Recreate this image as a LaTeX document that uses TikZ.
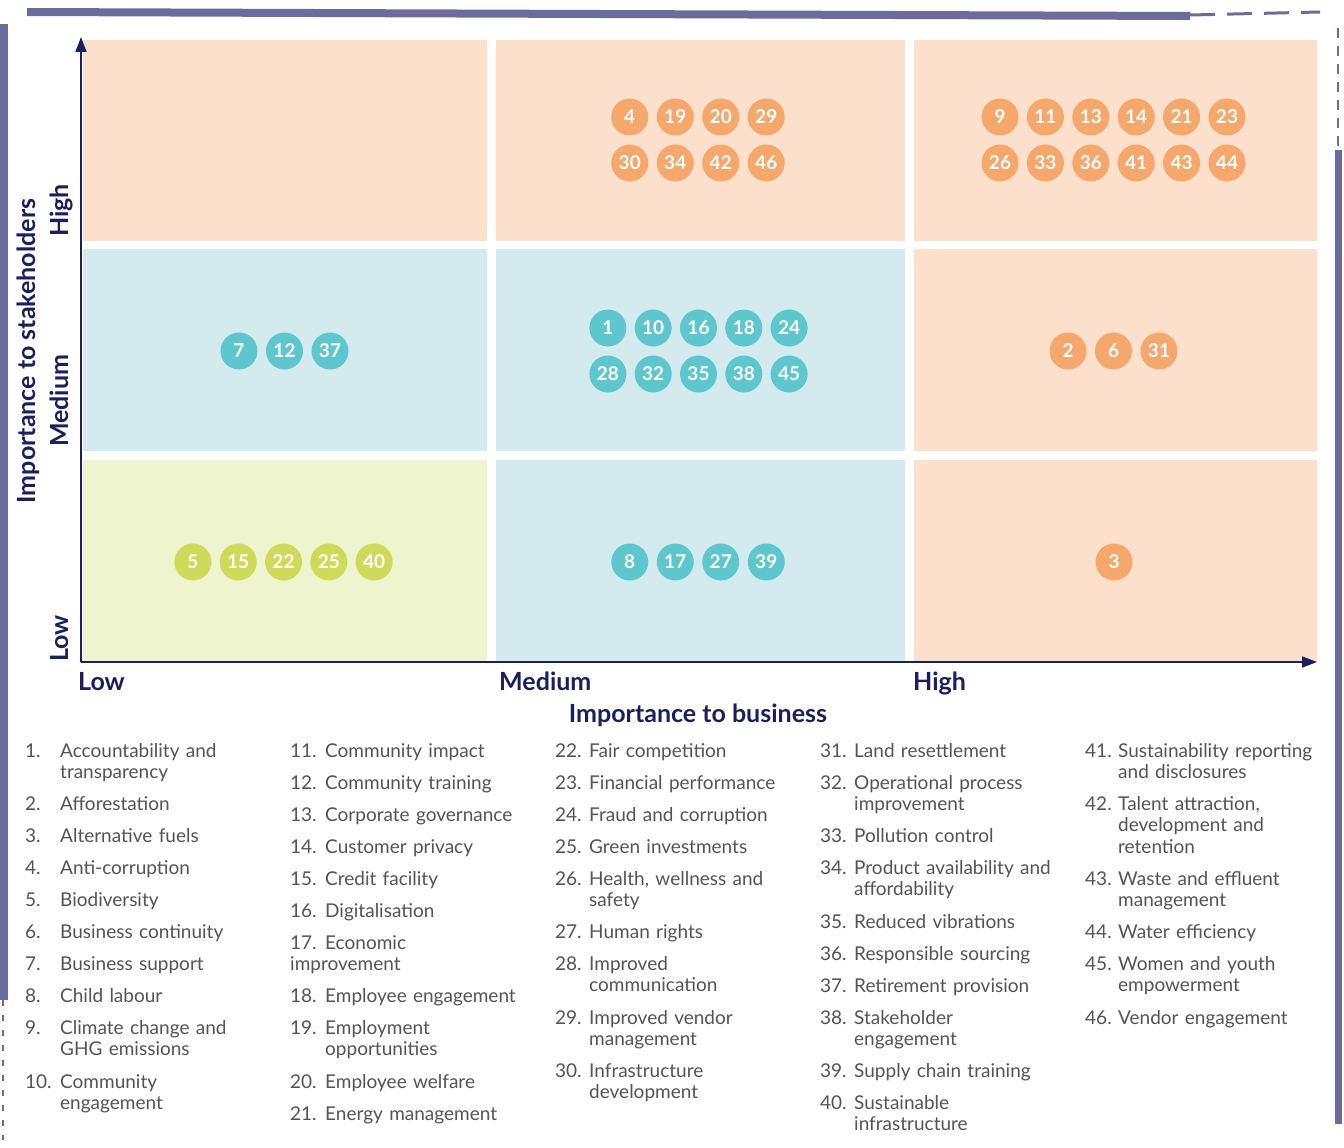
\documentclass[tikz,border=0pt]{standalone}
\usepackage{fontspec}
\setmainfont{Lato}
\usetikzlibrary{arrows.meta}

\definecolor{navy}{HTML}{1A1F60}
\definecolor{frame}{HTML}{6B6C9E}
\definecolor{peach}{HTML}{FCE0CB}
\definecolor{aqua}{HTML}{D3EBEE}
\definecolor{lime}{HTML}{EEF4CD}
\definecolor{orangedot}{HTML}{F6A76C}
\definecolor{tealdot}{HTML}{5EC6CD}
\definecolor{limedot}{HTML}{CEDB5A}
\definecolor{listgray}{HTML}{545454}

\begin{document}
\begin{tikzpicture}[x=1pt, y=-1pt,
    cell/.style={rectangle, inner sep=0, draw=none},
    dot/.style={circle, minimum size=37pt, inner sep=0, text=white, font=\fontsize{19}{19}\selectfont\bfseries},
    hi/.style={dot, fill=orangedot},
    mid/.style={dot, fill=tealdot},
    lo/.style={dot, fill=limedot},
    axis/.style={navy, line width=1.6pt, -{Triangle[length=15pt, width=11pt]}},
    lvl/.style={navy, inner sep=0, font=\fontsize{25}{25}\selectfont\bfseries},
    num/.style={listgray, inner sep=0, anchor=base west, font=\fontsize{19}{21.5}\selectfont},
    topic/.style={num, text width=240pt, align=left}]
    \useasboundingbox (0,0) rectangle (1344,1148);

    % brush frame
    \draw[frame, line width=8pt] (27,12) -- (600,14) -- (1190,16);
    \draw[frame, line width=3pt, dash pattern=on 25pt off 12pt] (1190,15) -- (1320,12);
    \draw[frame, line width=8pt] (4,24) -- (4,1000);
    \draw[frame, line width=2pt, dash pattern=on 6pt off 9pt] (3,1000) -- (3,1140);
    \draw[frame, line width=2pt, dash pattern=on 10pt off 8pt] (1338,28) -- (1338,150);
    \draw[frame, line width=7pt] (1338,150) -- (1338,1124);

    % cells
    \node[cell, fill=peach, minimum width=404pt, minimum height=201pt] (lh) at (285,140.5) {};
    \node[cell, fill=peach, minimum width=409pt, minimum height=201pt] (mh) at (700.5,140.5) {};
    \node[cell, fill=peach, minimum width=403pt, minimum height=201pt] (hh) at (1115.5,140.5) {};
    \node[cell, fill=aqua, minimum width=404pt, minimum height=202pt] (lm) at (285,350) {};
    \node[cell, fill=aqua, minimum width=409pt, minimum height=202pt] (mm) at (700.5,350) {};
    \node[cell, fill=peach, minimum width=403pt, minimum height=202pt] (hm) at (1115.5,350) {};
    \node[cell, fill=lime, minimum width=404pt, minimum height=202pt] (ll) at (285,561) {};
    \node[cell, fill=aqua, minimum width=409pt, minimum height=202pt] (ml) at (700.5,561) {};
    \node[cell, fill=peach, minimum width=403pt, minimum height=202pt] (hl) at (1115.5,561) {};

    % axes
    \coordinate (o) at (81,662);
    \coordinate (ytip) at (81,37);
    \coordinate (xtip) at (1317,662);
    \draw[axis] (o) -- (ytip);
    \draw[axis] (o) -- (xtip);

    \node[lvl, anchor=base west] (xlow) at (78,690) {Low};
    \node[lvl, anchor=base west] (xmed) at (499,690) {Medium};
    \node[lvl, anchor=base west] (xhigh) at (913,690) {High};
    \node[lvl, anchor=base] (xtitle) at (698,722) {Importance to business};
    \node[lvl, rotate=90, anchor=base west] (ylow) at (68,662) {Low};
    \node[lvl, rotate=90, anchor=base west] (ymed) at (68,447) {Medium};
    \node[lvl, rotate=90, anchor=base west] (yhigh) at (68,237) {High};
    \node[lvl, rotate=90, anchor=base] (ytitle) at (35,351) {Importance to stakeholders};

    % topics in the matrix
    \foreach \k [count=\i] in {4,19,20,29}
        \node[hi] (m\k) at ({698+(\i-2.5)*45.5},117) {\k};
    \foreach \k [count=\i] in {30,34,42,46}
        \node[hi] (m\k) at ({698+(\i-2.5)*45.5},163) {\k};
    \foreach \k [count=\i] in {9,11,13,14,21,23}
        \node[hi] (m\k) at ({1113.5+(\i-3.5)*45.4},117) {\k};
    \foreach \k [count=\i] in {26,33,36,41,43,44}
        \node[hi] (m\k) at ({1113.5+(\i-3.5)*45.4},163) {\k};
    \foreach \k [count=\i] in {7,12,37}
        \node[mid] (m\k) at ({284.5+(\i-2)*45.5},351) {\k};
    \foreach \k [count=\i] in {1,10,16,18,24}
        \node[mid] (m\k) at ({698.5+(\i-3)*45.3},328) {\k};
    \foreach \k [count=\i] in {28,32,35,38,45}
        \node[mid] (m\k) at ({698.5+(\i-3)*45.3},374) {\k};
    \foreach \k [count=\i] in {2,6,31}
        \node[hi] (m\k) at ({1113.5+(\i-2)*45.5},351) {\k};
    \foreach \k [count=\i] in {5,15,22,25,40}
        \node[lo] (m\k) at ({283.5+(\i-3)*45.3},562) {\k};
    \foreach \k [count=\i] in {8,17,27,39}
        \node[mid] (m\k) at ({698+(\i-2.5)*45.5},562) {\k};
    \node[hi] (m3) at (1114,562) {3};

    % legend
    \foreach \k/\y/\tp in {1/757/{Accountability and\\transparency}, 2/810/Afforestation,
        3/842/Alternative fuels, 4/874/Anti-corruption, 5/906/Biodiversity,
        6/938/Business continuity, 7/970/Business support, 8/1002/Child labour,
        9/1034/{Climate change and\\GHG emissions}, 10/1088/{Community\\engagement}} {
        \node[num] (n\k) at (25,\y) {\k.};
        \node[topic] (t\k) at (60,\y) {\tp};
    }
    \foreach \k/\y/\tp in {11/757/Community impact, 12/789/Community training,
        13/821/Corporate governance, 14/853/Customer privacy, 15/885/Credit facility,
        16/917/Digitalisation, 18/1002/Employee engagement,
        19/1034/{Employment\\opportunities}, 20/1088/Employee welfare,
        21/1120/Energy management} {
        \node[num] (n\k) at (290,\y) {\k.};
        \node[topic] (t\k) at (325,\y) {\tp};
    }
    \node[num] (n17) at (290,949) {17.};
    \node[num] (t17) at (325,949) {Economic};
    \node[num] (t17b) at (290,970.5) {improvement};
    \foreach \k/\y/\tp in {22/757/Fair competition, 23/789/Financial performance,
        24/821/Fraud and corruption, 25/853/Green investments,
        26/885/{Health, wellness and\\safety}, 27/938/Human rights,
        28/970/{Improved\\communication}, 29/1024/{Improved vendor\\management},
        30/1077/{Infrastructure\\development}} {
        \node[num] (n\k) at (555,\y) {\k.};
        \node[topic] (t\k) at (589,\y) {\tp};
    }
    \foreach \k/\y/\tp in {31/757/Land resettlement,
        32/789/{Operational process\\improvement}, 33/842/Pollution control,
        34/874/{Product availability and\\affordability}, 35/928/Reduced vibrations,
        36/960/Responsible sourcing, 37/992/Retirement provision,
        38/1024/{Stakeholder\\engagement}, 39/1077/Supply chain training,
        40/1109/{Sustainable\\infrastructure}} {
        \node[num] (n\k) at (820,\y) {\k.};
        \node[topic] (t\k) at (854,\y) {\tp};
    }
    \foreach \k/\y/\tp in {41/757/{Sustainability reporting\\and disclosures},
        42/810/{Talent attraction,\\development and\\retention},
        43/885/{Waste and effluent\\management}, 44/938/Water efficiency,
        45/970/{Women and youth\\empowerment}, 46/1024/Vendor engagement} {
        \node[num] (n\k) at (1085,\y) {\k.};
        \node[topic] (t\k) at (1118,\y) {\tp};
    }
\end{tikzpicture}
\end{document}
